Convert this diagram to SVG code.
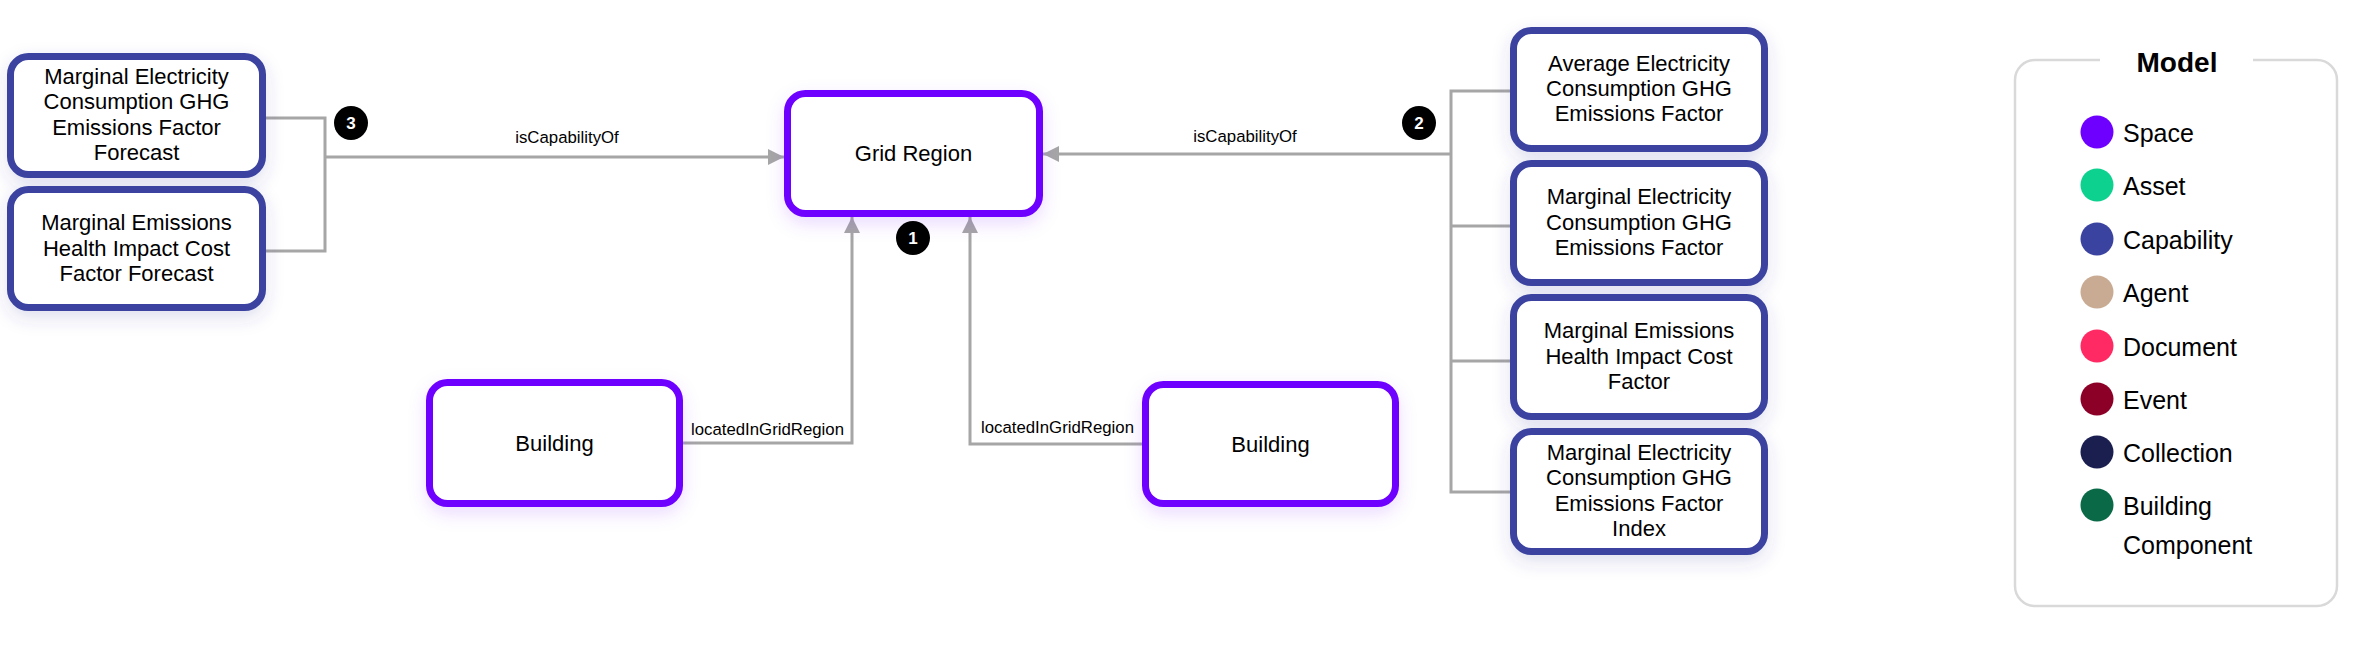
<svg xmlns="http://www.w3.org/2000/svg" width="2360" height="655" viewBox="0 0 2360 655">
  <style>
    .cap { fill: #ffffff; stroke: #3a43a0; stroke-width: 7; filter: url(#shCap); }
    .spc { fill: #ffffff; stroke: #6e00ff; stroke-width: 7; filter: url(#shSpc); }
    .nt { font-family: "Liberation Sans", Arial, sans-serif; font-size: 22px; fill: #000; text-anchor: middle; }
    .lbl { font-family: "Liberation Sans", Arial, sans-serif; font-size: 16.8px; fill: #000; }
    .conn { fill: none; stroke: #a6a6a6; stroke-width: 3; }
    .badge circle { fill: #000; }
    .badge text { font-family: "Liberation Sans", Arial, sans-serif; font-size: 17px; font-weight: bold; fill: #fff; text-anchor: middle; }
    .lg { font-family: "Liberation Sans", Arial, sans-serif; font-size: 25px; fill: #000; }
    .lgt { font-family: "Liberation Sans", Arial, sans-serif; font-size: 28px; font-weight: bold; fill: #000; text-anchor: middle; }
  </style>
  <defs>
    <filter id="shCap" x="-20%" y="-20%" width="140%" height="160%">
      <feDropShadow dx="0" dy="7" stdDeviation="9" flood-color="#3a43a0" flood-opacity="0.16"/>
    </filter>
    <filter id="shSpc" x="-20%" y="-20%" width="140%" height="160%">
      <feDropShadow dx="0" dy="7" stdDeviation="9" flood-color="#6e00ff" flood-opacity="0.14"/>
    </filter>
    <marker id="arr" markerUnits="userSpaceOnUse" markerWidth="16" markerHeight="16" refX="16" refY="8" orient="auto">
      <path d="M0,0 L16,8 L0,16 Z" fill="#a6a6a6"/>
    </marker>
  </defs>
  <rect width="2360" height="655" fill="#ffffff"/>

  <g id="connectors">
    <path class="conn" d="M266 118 H325 V251 H266"/>
    <path class="conn" d="M325 157 H784" marker-end="url(#arr)"/>
    <path class="conn" d="M1510 91 H1451 V492 H1510"/>
    <path class="conn" d="M1451 226 H1510"/>
    <path class="conn" d="M1451 361 H1510"/>
    <path class="conn" d="M1451 154 H1043" marker-end="url(#arr)"/>
    <path class="conn" d="M683 443 H852 V217" marker-end="url(#arr)"/>
    <path class="conn" d="M1142 444 H970 V217" marker-end="url(#arr)"/>
    <text class="lbl" x="567" y="143" text-anchor="middle">isCapabilityOf</text>
    <text class="lbl" x="1245" y="142" text-anchor="middle">isCapabilityOf</text>
    <text class="lbl" x="691" y="435">locatedInGridRegion</text>
    <text class="lbl" x="981" y="433">locatedInGridRegion</text>
  </g>

  <g id="node-mecghg-forecast">
    <rect class="cap" x="10.5" y="56.5" width="252" height="118" rx="18"/>
    <text class="nt" x="136.5" y="84">Marginal Electricity</text>
    <text class="nt" x="136.5" y="109.3">Consumption GHG</text>
    <text class="nt" x="136.5" y="134.6">Emissions Factor</text>
    <text class="nt" x="136.5" y="159.9">Forecast</text>
  </g>
  <g id="node-mehic-forecast">
    <rect class="cap" x="10.5" y="189.5" width="252" height="118" rx="18"/>
    <text class="nt" x="136.5" y="230.2">Marginal Emissions</text>
    <text class="nt" x="136.5" y="255.5">Health Impact Cost</text>
    <text class="nt" x="136.5" y="280.8">Factor Forecast</text>
  </g>
  <g id="node-grid-region">
    <rect class="spc" x="787.5" y="93.5" width="252" height="120" rx="18"/>
    <text class="nt" x="913.5" y="161">Grid Region</text>
  </g>
  <g id="node-building-1">
    <rect class="spc" x="429.5" y="382.5" width="250" height="121" rx="18"/>
    <text class="nt" x="554.5" y="450.5">Building</text>
  </g>
  <g id="node-building-2">
    <rect class="spc" x="1145.5" y="384.5" width="250" height="119" rx="18"/>
    <text class="nt" x="1270.5" y="451.5">Building</text>
  </g>
  <g id="node-aecghg">
    <rect class="cap" x="1513.5" y="30.5" width="251" height="118" rx="18"/>
    <text class="nt" x="1639" y="70.5">Average Electricity</text>
    <text class="nt" x="1639" y="95.8">Consumption GHG</text>
    <text class="nt" x="1639" y="121.1">Emissions Factor</text>
  </g>
  <g id="node-mecghg">
    <rect class="cap" x="1513.5" y="163.5" width="251" height="119" rx="18"/>
    <text class="nt" x="1639" y="204.2">Marginal Electricity</text>
    <text class="nt" x="1639" y="229.5">Consumption GHG</text>
    <text class="nt" x="1639" y="254.8">Emissions Factor</text>
  </g>
  <g id="node-mehic">
    <rect class="cap" x="1513.5" y="297.5" width="251" height="119" rx="18"/>
    <text class="nt" x="1639" y="338.2">Marginal Emissions</text>
    <text class="nt" x="1639" y="363.5">Health Impact Cost</text>
    <text class="nt" x="1639" y="388.8">Factor</text>
  </g>
  <g id="node-mecghg-index">
    <rect class="cap" x="1513.5" y="431.5" width="251" height="120" rx="18"/>
    <text class="nt" x="1639" y="460">Marginal Electricity</text>
    <text class="nt" x="1639" y="485.3">Consumption GHG</text>
    <text class="nt" x="1639" y="510.6">Emissions Factor</text>
    <text class="nt" x="1639" y="535.9">Index</text>
  </g>

  <g id="badge-1" class="badge">
    <circle cx="913" cy="238" r="17"/>
    <text x="913" y="244">1</text>
  </g>
  <g id="badge-2" class="badge">
    <circle cx="1419" cy="123" r="17"/>
    <text x="1419" y="129">2</text>
  </g>
  <g id="badge-3" class="badge">
    <circle cx="351" cy="123" r="17"/>
    <text x="351" y="129">3</text>
  </g>

  <g id="legend">
    <path d="M2253 60 H2317 A20 20 0 0 1 2337 80 V586 A20 20 0 0 1 2317 606 H2035 A20 20 0 0 1 2015 586 V80 A20 20 0 0 1 2035 60 H2100" fill="none" stroke="#d9d9d9" stroke-width="2.5"/>
    <text class="lgt" x="2177" y="72">Model</text>
    <circle cx="2097" cy="132" r="16.5" fill="#6e00ff"/>
    <text class="lg" x="2123" y="142">Space</text>
    <circle cx="2097" cy="185" r="16.5" fill="#0dd18f"/>
    <text class="lg" x="2123" y="195">Asset</text>
    <circle cx="2097" cy="239" r="16.5" fill="#3a43a0"/>
    <text class="lg" x="2123" y="249">Capability</text>
    <circle cx="2097" cy="292" r="16.5" fill="#c9aa92"/>
    <text class="lg" x="2123" y="302">Agent</text>
    <circle cx="2097" cy="346" r="16.5" fill="#ff2a63"/>
    <text class="lg" x="2123" y="356">Document</text>
    <circle cx="2097" cy="399" r="16.5" fill="#8c0027"/>
    <text class="lg" x="2123" y="409">Event</text>
    <circle cx="2097" cy="452" r="16.5" fill="#1b1f4f"/>
    <text class="lg" x="2123" y="462">Collection</text>
    <circle cx="2097" cy="505" r="16.5" fill="#0a6a47"/>
    <text class="lg" x="2123" y="515">Building</text>
    <text class="lg" x="2123" y="554">Component</text>
  </g>
</svg>
